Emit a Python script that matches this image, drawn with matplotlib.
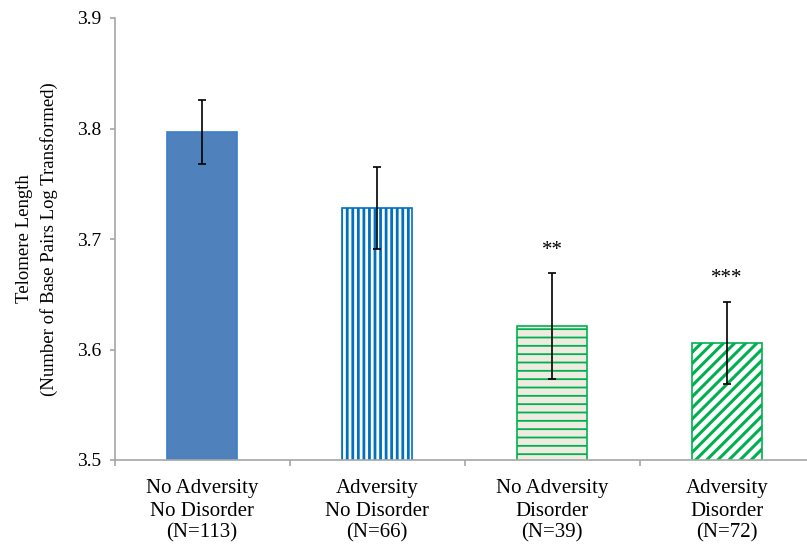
import matplotlib.pyplot as plt
import numpy as np

plt.rcParams['font.family'] = ['Liberation Serif', 'DejaVu Serif']

groups = ["No Adversity\nNo Disorder\n(N=113)",
          "Adversity\nNo Disorder\n(N=66)",
          "No Adversity\nDisorder\n(N=39)",
          "Adversity\nDisorder\n(N=72)"]
means = [3.797, 3.728, 3.621, 3.606]
errors = [0.029, 0.037, 0.048, 0.037]
stars = ["", "", "**", "***"]

fills = ["#4F81BD", "white", "#EEECE1", "white"]
edges = ["#3A7FCC", "#0070C0", "#00B050", "#00B050"]
hatches = [None, "|||", "--", "///"]
hatch_lw = [1.0, 2.0, 1.3, 2.2]

fig = plt.figure(figsize=(8.07, 5.51), dpi=100)
ax = fig.add_axes([114.5 / 807, (551 - 460) / 551, 700 / 807, 442 / 551])

x = np.arange(len(groups))
for i in range(len(groups)):
    with plt.rc_context({'hatch.linewidth': hatch_lw[i]}):
        ax.bar(x[i], means[i], width=0.4, color=fills[i], edgecolor=edges[i],
               hatch=hatches[i], linewidth=1.2, zorder=2)
ax.errorbar(x, means, yerr=errors, fmt='none', ecolor='black',
            elinewidth=1.2, capsize=2.8, capthick=1.2, zorder=3)
for i, s in enumerate(stars):
    if s:
        ax.text(x[i], means[i] + errors[i] + 0.021, s, ha='center', va='center',
                fontsize=15)

ax.set_xlim(-0.5, 3.5)
ax.set_ylim(3.5, 3.9)
ax.set_yticks([3.5, 3.6, 3.7, 3.8, 3.9])
ax.set_yticklabels(["3.5", "3.6", "3.7", "3.8", "3.9"], fontsize=14)
ax.set_xticks(x)
ax.set_xticklabels(groups, fontsize=15, linespacing=1.22)
ax.tick_params(axis='x', length=0, pad=14)
ax.set_xticks(np.arange(-0.5, 4.0, 1.0), minor=True)
ax.tick_params(axis='x', which='minor', length=4.3, color='#A6A6A6', width=1.2)
ax.tick_params(axis='y', length=3.6, color='#A6A6A6', width=1.2, pad=6)

for side in ['top', 'right']:
    ax.spines[side].set_visible(False)
for side in ['left', 'bottom']:
    ax.spines[side].set_color('#A6A6A6')
    ax.spines[side].set_linewidth(1.2)

ax.set_ylabel("Telomere Length\n(Number of Base Pairs Log Transformed)",
              fontsize=13.5, linespacing=1.5)
ax.yaxis.set_label_coords((58 - 114.5) / 700, 0.5)

fig.savefig("out.png", dpi=100)
